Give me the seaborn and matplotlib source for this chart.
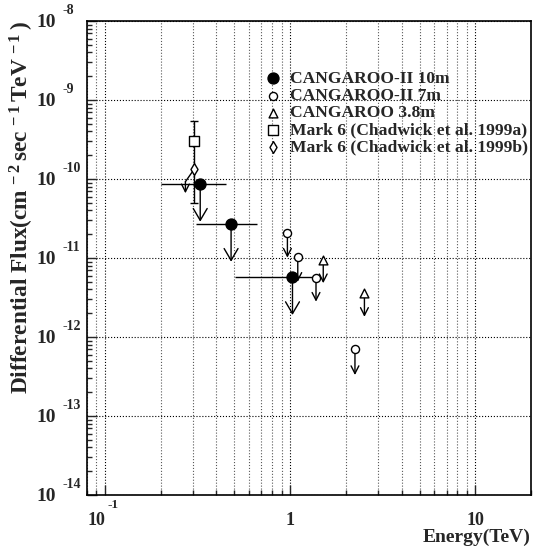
import numpy as np
import matplotlib
matplotlib.use('Agg')
import matplotlib.pyplot as plt
import seaborn as sns
from matplotlib.ticker import LogLocator, NullFormatter

# CANGAROO-II 10m: points with energy bins and upper-limit arrows
c10_energy = [0.327, 0.48, 1.03]
c10_flux = [8.65e-11, 2.67e-11, 5.75e-12]
c10_elow = [0.20, 0.31, 0.505]
c10_ehigh = [0.45, 0.66, 1.33]
c10_limit = [2.88e-11, 8.97e-12, 1.9e-12]

# CANGAROO-II 7m
c7_energy = [0.967, 1.10, 1.38, 2.24]
c7_flux = [2.09e-11, 1.04e-11, 5.63e-12, 6.99e-13]
c7_limit = [1.01e-11, 5.0e-12, 2.8e-12, 3.3e-13]

# CANGAROO 3.8m
c38_energy = [1.51, 2.52]
c38_flux = [9.3e-12, 3.63e-12]
c38_limit = [4.8e-12, 1.8e-12]

# Mark 6 (1999a) with error bar
m6a_energy = [0.304]
m6a_flux = [3.03e-10]
m6a_flux_lo = [5.0e-11]
m6a_flux_hi = [5.47e-10]

# Mark 6 (1999b) with bent upper-limit arrow
m6b_energy = [0.304]
m6b_flux = [1.34e-10]
m6b_bend_energy = [0.272]
m6b_bend_flux = [9.25e-11]
m6b_limit = [6.6e-11]

labels = ['CANGAROO-II 10m', 'CANGAROO-II 7m', 'CANGAROO 3.8m',
          'Mark 6 (Chadwick et al. 1999a)', 'Mark 6 (Chadwick et al. 1999b)']

x_ticks = [0.1, 1, 10]
y_ticks = [1e-14, 1e-13, 1e-12, 1e-11, 1e-10, 1e-9, 1e-8]

sns.set_style('ticks')
plt.rcParams['font.family'] = ['Liberation Serif', 'DejaVu Serif']
plt.rcParams['font.weight'] = 'bold'
plt.rcParams['mathtext.fontset'] = 'custom'
plt.rcParams['mathtext.rm'] = 'Liberation Serif:bold'
plt.rcParams['mathtext.bf'] = 'Liberation Serif:bold'
plt.rcParams['mathtext.it'] = 'Liberation Serif:bold:italic'

fig = plt.figure(figsize=(5.33, 5.51), dpi=100)
ax = fig.add_axes([87 / 533, 1 - 495 / 551, 444 / 533, 474 / 551])
ax.set_xscale('log')
ax.set_yscale('log')
ax.set_xlim(0.08, 20)
ax.set_ylim(1e-14, 1e-8)

big = dict(arrowstyle='->,head_length=0.85,head_width=0.5', color='black', lw=1,
           shrinkA=0, shrinkB=0, mutation_scale=10)
small = dict(arrowstyle='->,head_length=0.55,head_width=0.28', color='black', lw=1,
             shrinkA=0, shrinkB=0, mutation_scale=10)

# 10m: energy bins + arrows
ax.errorbar(c10_energy, c10_flux,
            xerr=[np.array(c10_energy) - np.array(c10_elow), np.array(c10_ehigh) - np.array(c10_energy)],
            fmt='none', ecolor='black', elinewidth=1, zorder=3)
for e, f, l in zip(c10_energy, c10_flux, c10_limit):
    ax.annotate('', xy=(e, l), xytext=(e, f), arrowprops=big, zorder=3)
for e, f, l in zip(c7_energy, c7_flux, c7_limit):
    ax.annotate('', xy=(e, l), xytext=(e, f), arrowprops=small, zorder=3)
for e, f, l in zip(c38_energy, c38_flux, c38_limit):
    ax.annotate('', xy=(e, l), xytext=(e, f), arrowprops=small, zorder=3)

# Mark 6 error bar and bent arrow
ax.errorbar(m6a_energy, m6a_flux,
            yerr=[np.array(m6a_flux) - np.array(m6a_flux_lo), np.array(m6a_flux_hi) - np.array(m6a_flux)],
            fmt='none', ecolor='black', elinewidth=1, capsize=3, capthick=1, zorder=3)
ax.plot([m6b_energy[0], m6b_bend_energy[0]], [m6b_flux[0], m6b_bend_flux[0]], color='black', lw=1, zorder=3)
ax.annotate('', xy=(m6b_bend_energy[0], m6b_limit[0]), xytext=(m6b_bend_energy[0], m6b_bend_flux[0]),
            arrowprops=small, zorder=3)

# markers
sns.scatterplot(x=c10_energy, y=c10_flux, marker='o', s=62, color='black', edgecolor='black',
                linewidth=1, label=labels[0], ax=ax, zorder=6)
sns.scatterplot(x=c7_energy, y=c7_flux, marker='o', s=34, color='white', edgecolor='black',
                linewidth=1, label=labels[1], ax=ax, zorder=5)
sns.scatterplot(x=c38_energy, y=c38_flux, marker='^', s=40, color='white', edgecolor='black',
                linewidth=1, label=labels[2], ax=ax, zorder=5)
sns.scatterplot(x=m6a_energy, y=m6a_flux, marker='s', s=45, color='white', edgecolor='black',
                linewidth=1, label=labels[3], ax=ax, zorder=5)
sns.scatterplot(x=m6b_energy, y=m6b_flux, marker='d', s=36, color='white', edgecolor='black',
                linewidth=1, label=labels[4], ax=ax, zorder=5)

# axes styling
ax.set_xticks(x_ticks)
ax.set_yticks(y_ticks)
ax.xaxis.set_minor_locator(LogLocator(base=10, subs=np.arange(2, 10), numticks=20))
ax.yaxis.set_minor_locator(LogLocator(base=10, subs=np.arange(2, 10), numticks=20))
for axis in (ax.xaxis, ax.yaxis):
    axis.set_major_formatter(NullFormatter())
    axis.set_minor_formatter(NullFormatter())
ax.tick_params(which='both', direction='in', top=False, right=False, width=1)
ax.tick_params(which='major', length=7)
ax.tick_params(which='minor', length=3.5)

# ROOT-style tick labels: "10" with a raised exponent
for v in x_ticks:
    e = int(round(np.log10(v)))
    if e in (0, 1):
        ax.annotate(str(int(v)), xy=(v, 0), xycoords=('data', 'axes fraction'), xytext=(0, -18.5),
                    textcoords='offset points', ha='center', va='center', fontsize=13, fontweight='bold')
    else:
        ax.annotate('10', xy=(v, 0), xycoords=('data', 'axes fraction'), xytext=(-6, -18.5),
                    textcoords='offset points', ha='center', va='center', fontsize=13, fontweight='bold')
        ax.annotate('%d' % e, xy=(v, 0), xycoords=('data', 'axes fraction'), xytext=(2, -7.5),
                    textcoords='offset points', ha='left', va='center', fontsize=9.5, fontweight='bold')
for v in y_ticks:
    e = int(round(np.log10(v)))
    ax.annotate('10', xy=(0, v), xycoords=('axes fraction', 'data'), xytext=(-22.5, -1),
                textcoords='offset points', ha='right', va='center', fontsize=14, fontweight='bold')
    ax.annotate('%d' % e, xy=(0, v), xycoords=('axes fraction', 'data'), xytext=(-17.5, 7.5),
                textcoords='offset points', ha='left', va='center', fontsize=10, fontweight='bold')

ax.grid(which='major', axis='both', linestyle=':', color='black', lw=0.8)
ax.grid(which='minor', axis='x', linestyle=':', color='0.35', lw=0.8)
for sp in ax.spines.values():
    sp.set_linewidth(1.2)
    sp.set_color('black')

ax.set_xlabel('Energy(TeV)', fontsize=14, fontweight='bold', loc='right')
ax.xaxis.set_label_coords(1.0, -0.072)
ax.set_ylabel(r'Differential Flux(cm$^{\,-2\;}$sec$^{\,-1\;}$TeV$^{\,-1\;}$)', fontsize=16.8,
              fontweight='bold', loc='top')
ax.yaxis.set_label_coords(-0.115, 1.0)

handles, labs = ax.get_legend_handles_labels()
order = [labs.index(l) for l in labels]
ax.legend([handles[i] for i in order], labels, loc='upper left', bbox_to_anchor=(0.40, 0.895),
          frameon=False, prop={'size': 12.6, 'weight': 'bold'}, borderpad=0, borderaxespad=0,
          handlelength=1.0, handletextpad=0.45, labelspacing=0.05)

fig.savefig('out.png', dpi=100)
